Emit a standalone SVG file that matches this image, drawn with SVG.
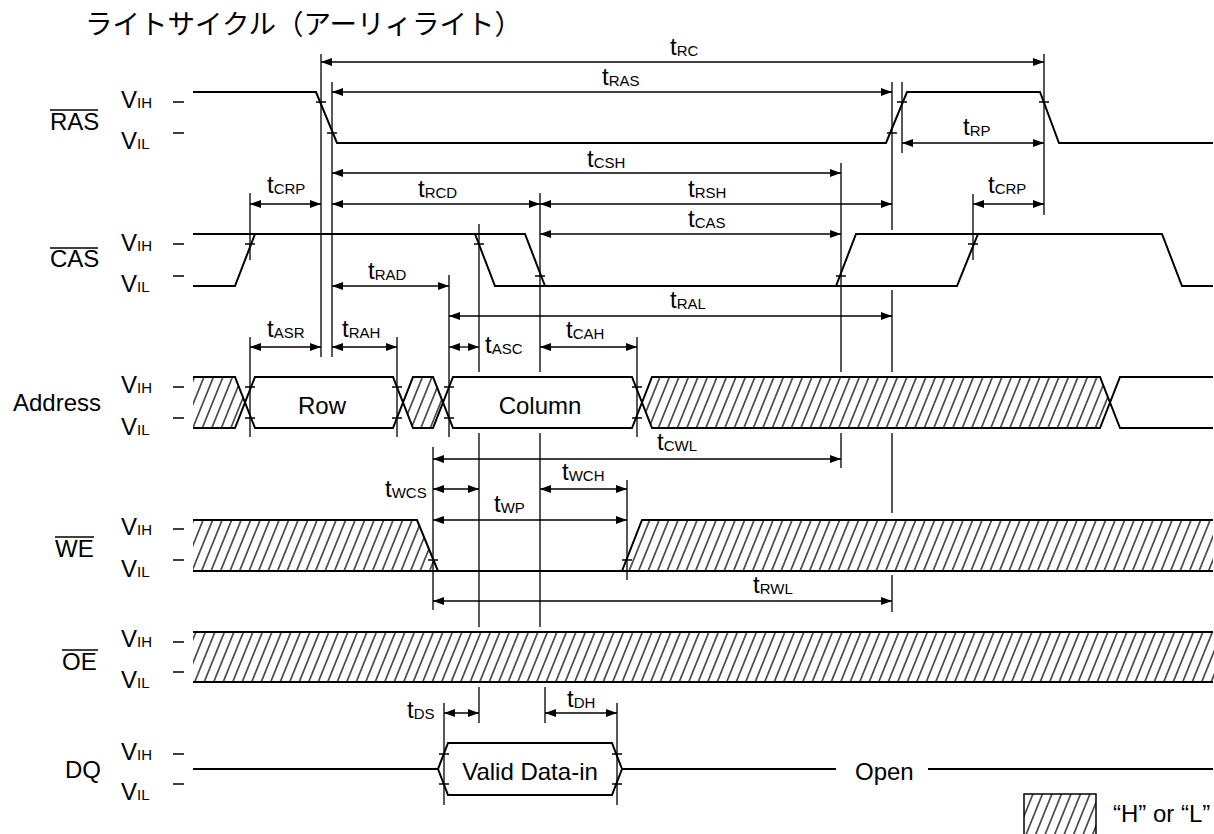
<svg xmlns="http://www.w3.org/2000/svg" width="1214" height="834" viewBox="0 0 1214 834">
<style>
text{font-family:"Liberation Sans",Arial,sans-serif;fill:#000}
.lbl{font-size:24px}
.vl{font-size:24px}
.sub{font-size:15px}
.tl{font-size:24px}
.ttl{font-family:"Noto Sans CJK JP","Noto Sans CJK SC",sans-serif;font-size:27.5px}
.sig{fill:none;stroke:#000;stroke-width:2;stroke-linejoin:miter}
.ref{fill:none;stroke:#000;stroke-width:1.3}
.dim{fill:none;stroke:#000;stroke-width:1.3;marker-start:url(#ar);marker-end:url(#ar)}
.hat{fill:url(#hatch);stroke:none}
.ol{fill:none;stroke:#000;stroke-width:1.5}
</style>
<defs>
<marker id="ar" viewBox="0 0 11 8" refX="11" refY="4" markerWidth="11" markerHeight="8" markerUnits="userSpaceOnUse" orient="auto-start-reverse"><path d="M0,0 L11,4 L0,8 z" fill="#000"/></marker>
<pattern id="hatch" patternUnits="userSpaceOnUse" width="9.5" height="20" patternTransform="skewX(-22)"><line x1="4.75" y1="-1" x2="4.75" y2="21" stroke="#000" stroke-width="1.3"/></pattern>
</defs>
<rect width="1214" height="834" fill="#fff"/>
<g id="title"><text class="ttl" x="85" y="34">ライトサイクル（アーリィライト）</text></g>

<g id="sig-ras">
<text class="lbl" x="50" y="130">RAS</text><line class="ref" x1="50" y1="110" x2="98" y2="110" stroke-width="1.5"/>
<text class="vl" x="121" y="108">V<tspan class="sub">IH</tspan></text>
<text class="vl" x="121" y="149">V<tspan class="sub">IL</tspan></text>
<path class="ref" d="M173,102H184M173,133H184"/>
<path class="sig" d="M193,92H316L337,143H886L907,92H1040L1059,143H1213"/>
<path class="ref" d="M316,102H326M327,133H337M887,133H897M897,102H907M1039,102H1049"/>
</g>

<g id="sig-cas">
<text class="lbl" x="50" y="267">CAS</text><line class="ref" x1="50" y1="248" x2="98" y2="248" stroke-width="1.5"/>
<text class="vl" x="121" y="251">V<tspan class="sub">IH</tspan></text>
<text class="vl" x="121" y="292">V<tspan class="sub">IL</tspan></text>
<path class="ref" d="M173,244H184M173,276H184"/>
<path class="sig" d="M193,234H525L545,286M193,286H235L255,234M475,234L495,286H957L978,234H1162L1182,286H1213M836,286L856,234H978"/>
<path class="ref" d="M245,244H255M474,244H484M535,276H545M836,276H846M968,244H978"/>
</g>

<g id="sig-address">
<text class="lbl" x="13" y="411">Address</text>
<text class="vl" x="121" y="393">V<tspan class="sub">IH</tspan></text>
<text class="vl" x="121" y="435">V<tspan class="sub">IL</tspan></text>
<path class="ref" d="M173,387H184M173,418H184"/>
<polygon class="hat" points="193,377 235,377 245,402.5 235,428 193,428"/>
<polygon class="hat" points="403,402.5 413,377 433,377 443,402.5 433,428 413,428"/>
<polygon class="hat" points="642,402.5 652,377 1100,377 1110,402.5 1100,428 652,428"/>
<path class="sig" d="M193,377H235L255,428H393L413,377H433L453,428H632L652,377H1100L1120,428H1213M193,428H235L255,377H393L413,428H433L453,377H632L652,428H1100L1120,377H1213"/>
<path class="ref" d="M245,387H255M245,418H255M392,387H402M392,418H402M444,387H454M444,418H454M632,387H642M632,418H642"/>
<text class="lbl" x="322" y="414" text-anchor="middle">Row</text>
<text class="lbl" x="540" y="414" text-anchor="middle">Column</text>
</g>

<g id="sig-we">
<text class="lbl" x="55" y="557">WE</text><line class="ref" x1="55" y1="537" x2="94" y2="537" stroke-width="1.5"/>
<text class="vl" x="121" y="535">V<tspan class="sub">IH</tspan></text>
<text class="vl" x="121" y="577">V<tspan class="sub">IL</tspan></text>
<path class="ref" d="M173,529H184M173,560H184"/>
<polygon class="hat" points="193,520 417,520 438,571 193,571"/>
<polygon class="hat" points="622,571 642,520 1213,520 1213,571"/>
<path class="sig" d="M193,520H417L438,571M193,571H1213M622,571L642,520H1213"/>
<path class="ref" d="M428,560H438M622,560H632"/>
</g>

<g id="sig-oe">
<text class="lbl" x="62" y="670">OE</text><line class="ref" x1="62" y1="650" x2="98" y2="650" stroke-width="1.5"/>
<text class="vl" x="121" y="647">V<tspan class="sub">IH</tspan></text>
<text class="vl" x="121" y="688">V<tspan class="sub">IL</tspan></text>
<path class="ref" d="M173,642H184M173,672H184"/>
<rect class="hat" x="193" y="632" width="1021" height="50"/>
<path class="sig" d="M193,632H1213M193,682H1213"/>
</g>

<g id="sig-dq">
<text class="lbl" x="65" y="778">DQ</text>
<text class="vl" x="121" y="760">V<tspan class="sub">IH</tspan></text>
<text class="vl" x="121" y="800">V<tspan class="sub">IL</tspan></text>
<path class="ref" d="M173,754H184M173,784H184"/>
<path class="sig" d="M193,769H438L448,743H612L622,769L612,795H448L438,769M622,769H836M928,769H1213"/>
<path class="ref" d="M439,754H449M439,784H449M612,754H622M612,784H622"/>
<text class="lbl" x="530" y="780" text-anchor="middle">Valid Data-in</text>
<text class="lbl" x="855" y="780">Open</text>
</g>

<g id="legend">
<rect class="hat" x="1024" y="794" width="72" height="50"/>
<rect class="ol" x="1024" y="794" width="72" height="50"/>
<text class="lbl" x="1113" y="822">“H” or “L”</text>
</g>

<g id="connectors">
<path class="ref" d="M321,54V357M332,82V357M250,193V260M250,337V437M397,337V437M449,275V437M479,224V372M479,433V627M479,687V723M540,193V372M540,433V627M545,687V723M637,337V437M433,447V610M627,480V580M444,703V805M617,703V805M841,163V372M841,433V468M892,82V230M892,290V372M892,433V513M892,575V612M902,82V153M1044,54V215M973,194V260"/>
<line class="dim" x1="321" y1="62" x2="1044" y2="62"/>
<line class="dim" x1="332" y1="92" x2="892" y2="92"/>
<line class="dim" x1="902" y1="143" x2="1044" y2="143"/>
<line class="dim" x1="332" y1="173" x2="841" y2="173"/>
<line class="dim" x1="250" y1="204" x2="321" y2="204"/>
<line class="dim" x1="332" y1="204" x2="540" y2="204"/>
<line class="dim" x1="540" y1="204" x2="892" y2="204"/>
<line class="dim" x1="973" y1="204" x2="1044" y2="204"/>
<line class="dim" x1="540" y1="234" x2="841" y2="234"/>
<line class="dim" x1="332" y1="286" x2="449" y2="286"/>
<line class="dim" x1="449" y1="316" x2="892" y2="316"/>
<line class="dim" x1="250" y1="347" x2="321" y2="347"/>
<line class="dim" x1="332" y1="347" x2="397" y2="347"/>
<line class="dim" x1="449" y1="347" x2="479" y2="347"/>
<line class="dim" x1="540" y1="347" x2="637" y2="347"/>
<line class="dim" x1="433" y1="459" x2="841" y2="459"/>
<line class="dim" x1="433" y1="489" x2="479" y2="489"/>
<line class="dim" x1="540" y1="489" x2="627" y2="489"/>
<line class="dim" x1="433" y1="520" x2="627" y2="520"/>
<line class="dim" x1="433" y1="601" x2="892" y2="601"/>
<line class="dim" x1="444" y1="713" x2="479" y2="713"/>
<line class="dim" x1="545" y1="713" x2="617" y2="713"/>
</g>

<g id="timing-labels">
<text class="tl" x="670" y="55">t<tspan class="sub" dy="1">RC</tspan></text>
<text class="tl" x="602" y="85">t<tspan class="sub" dy="1">RAS</tspan></text>
<text class="tl" x="963" y="135">t<tspan class="sub" dy="1">RP</tspan></text>
<text class="tl" x="587" y="167">t<tspan class="sub" dy="1">CSH</tspan></text>
<text class="tl" x="267" y="193">t<tspan class="sub" dy="1">CRP</tspan></text>
<text class="tl" x="418" y="197">t<tspan class="sub" dy="1">RCD</tspan></text>
<text class="tl" x="688" y="197">t<tspan class="sub" dy="1">RSH</tspan></text>
<text class="tl" x="988" y="193">t<tspan class="sub" dy="1">CRP</tspan></text>
<text class="tl" x="688" y="227">t<tspan class="sub" dy="1">CAS</tspan></text>
<text class="tl" x="368" y="279">t<tspan class="sub" dy="1">RAD</tspan></text>
<text class="tl" x="670" y="308">t<tspan class="sub" dy="1">RAL</tspan></text>
<text class="tl" x="267" y="337">t<tspan class="sub" dy="1">ASR</tspan></text>
<text class="tl" x="342" y="337">t<tspan class="sub" dy="1">RAH</tspan></text>
<text class="tl" x="485" y="353">t<tspan class="sub" dy="1">ASC</tspan></text>
<text class="tl" x="566" y="338">t<tspan class="sub" dy="1">CAH</tspan></text>
<text class="tl" x="657" y="450">t<tspan class="sub" dy="1">CWL</tspan></text>
<text class="tl" x="385" y="497">t<tspan class="sub" dy="1">WCS</tspan></text>
<text class="tl" x="562" y="480">t<tspan class="sub" dy="1">WCH</tspan></text>
<text class="tl" x="494" y="512">t<tspan class="sub" dy="1">WP</tspan></text>
<text class="tl" x="753" y="593">t<tspan class="sub" dy="1">RWL</tspan></text>
<text class="tl" x="407" y="718">t<tspan class="sub" dy="1">DS</tspan></text>
<text class="tl" x="567" y="707">t<tspan class="sub" dy="1">DH</tspan></text>
</g>
</svg>
